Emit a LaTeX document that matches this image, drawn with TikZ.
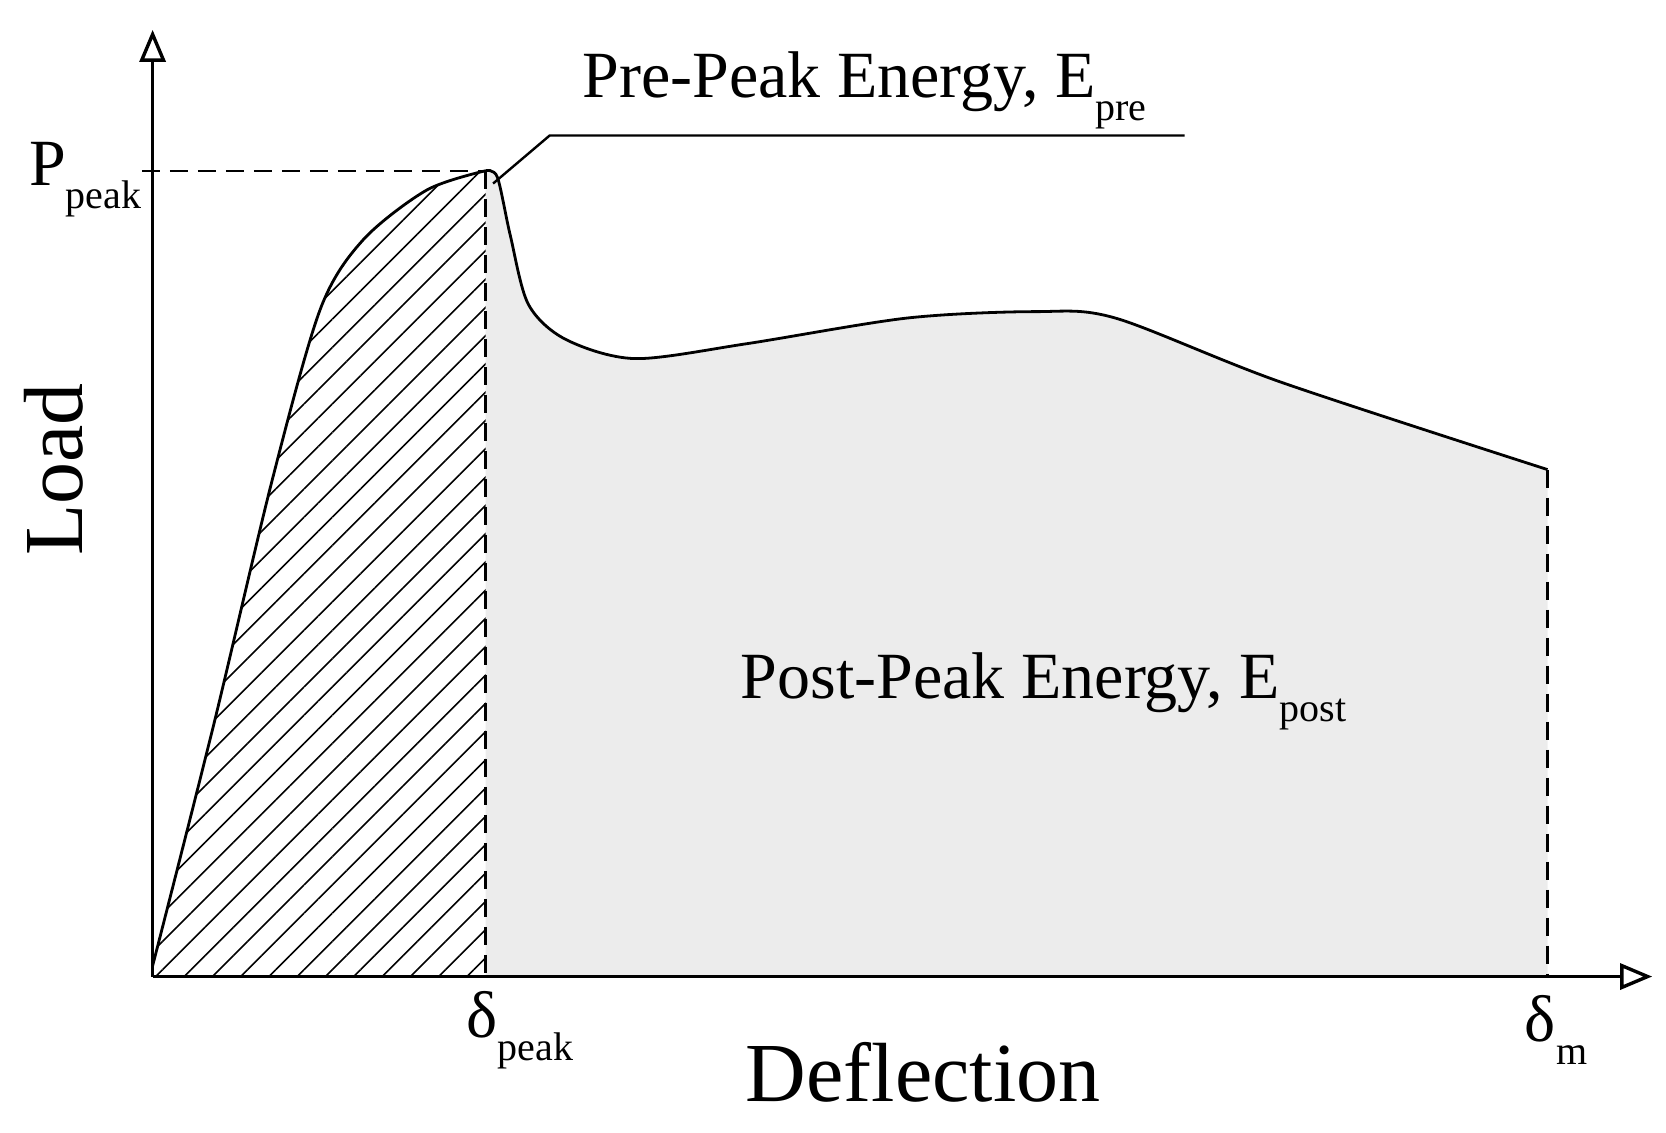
\documentclass[tikz,border=0pt]{standalone}
\usepackage{fontspec}
\setmainfont{Liberation Serif}
\usetikzlibrary{patterns.meta,arrows.meta}
\newcommand{\sbs}[1]{\raisebox{-0.35em}{\fontsize{20}{22}\selectfont #1}}
\begin{document}
\begin{tikzpicture}[x=0.5336pt,y=-0.5336pt,
  lbl/.style={font=\fontsize{33}{40}\selectfont, inner sep=0pt},
  axis/.style={line width=1.7pt,-{Triangle[open,length=16pt,width=13pt]}},
  curve/.style={line width=1.4pt},
  dsh/.style={line width=1.2pt,dash pattern=on 9pt off 5pt}]
\useasboundingbox (0,0) rectangle (1561,1061);
\def\pre{(143,905) (200,680) (255,450) (300,290) (340,225) (400,178) (455,160)}
\def\post{(455,160) (466,166) (478,220) (495,285) (530,318) (595,336) (700,322) (850,298) (970,292) (1045,298) (1200,358) (1450,440)}
\fill[gray!15] (455,915) -- plot[smooth,tension=0.5] coordinates {\post} -- (1450,915) -- cycle;
\fill[pattern={Lines[angle=45,distance=10pt,line width=0.8pt]}] (143,915) -- plot[smooth,tension=0.5] coordinates {\pre} -- (455,915) -- cycle;
\draw[curve] plot[smooth,tension=0.5] coordinates {\pre};
\draw[curve] plot[smooth,tension=0.5] coordinates {\post};
\coordinate (O) at (143,915);
\coordinate (yt) at (143,28);
\coordinate (xt) at (1548,915);
\draw[axis] (O) -- (yt);
\draw[axis] (O) -- (xt);
\coordinate (pk) at (455,160);
\coordinate (pl) at (133,160);
\coordinate (pb) at (455,915);
\coordinate (mt) at (1450,440);
\coordinate (mb) at (1450,915);
\draw[dsh] (pl) -- (pk);
\draw[dsh] (pk) -- (pb);
\draw[dsh] (mt) -- (mb);
\coordinate (l1) at (462,172);
\coordinate (l2) at (515,127);
\coordinate (l3) at (1110,127);
\draw[line width=1.2pt] (l1) -- (l2) -- (l3);
\node[lbl] (pre) at (810,85) {Pre-Peak Energy, E\sbs{pre}};
\node[lbl] (post) at (978,648) {Post-Peak Energy, E\sbs{post}};
\node[lbl,rotate=90,font=\fontsize{42}{48}\selectfont] (load) at (50,440) {Load};
\node[lbl,font=\fontsize{42}{48}\selectfont] (defl) at (865,1005) {Deflection};
\node[lbl] (pp) at (80,168) {P\sbs{peak}};
\node[lbl] (dp) at (487,965) {δ\sbs{peak}};
\node[lbl] (dm) at (1458,965) {δ\sbs{m}};
\end{tikzpicture}
\end{document}
